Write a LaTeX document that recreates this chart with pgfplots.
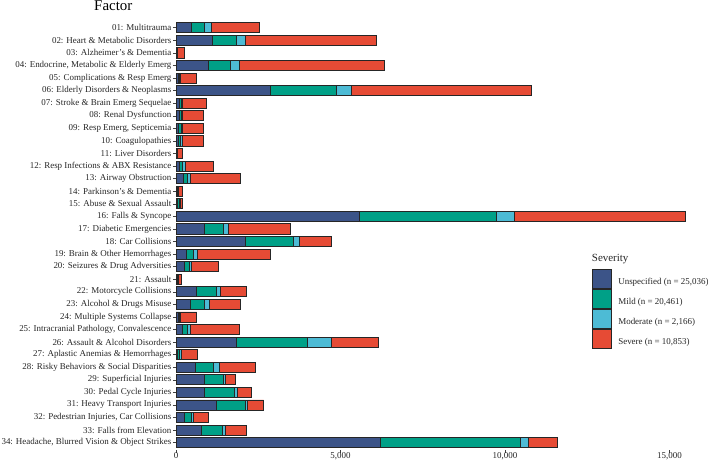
\documentclass[border=0pt]{standalone}
\usepackage{pgfplots}
\usepackage{pgfplotstable}
\pgfplotsset{compat=1.18}
\usepackage{fontspec}
\setmainfont{Liberation Serif}
\definecolor{cU}{HTML}{3C5488}
\definecolor{cM}{HTML}{00A087}
\definecolor{cMo}{HTML}{4DBBD5}
\definecolor{cS}{HTML}{E64B35}
\pgfplotsset{sqleg/.style={legend image code/.code={\draw[##1] (0bp,-6.5bp) rectangle (19bp,12.5bp);}}}
\pgfplotstableread{
idx U M Mo S
1 459 397 209 1461
2 1096 731 271 3989
3 20 10 10 220
4 971 679 281 4417
5 63 41 21 501
6 2871 2015 438 5468
7 94 63 41 721
8 94 83 32 626
9 84 73 52 626
10 73 73 42 637
11 21 21 10 136
12 115 94 73 856
13 230 125 83 1514
14 31 21 21 136
15 31 63 31 63
16 5575 4155 553 5212
17 856 585 146 1890
18 2109 1461 178 971
19 313 209 125 2224
20 251 167 62 804
21 42 21 10 94
22 626 595 126 783
23 438 429 146 939
24 63 41 21 501
25 188 167 83 1493
26 1837 2162 720 1430
27 42 62 63 480
28 595 533 187 1107
29 856 585 73 292
30 877 908 94 407
31 1232 866 84 480
32 251 229 42 470
33 762 647 105 626
34 6212 4259 230 893
}\datatable
\begin{document}
\begin{tikzpicture}
\begin{axis}[
  scale only axis,
  width=524bp, height=430bp,
  at={(176bp,14.8bp)}, anchor=south west,
  xbar stacked,
  bar width=0.8,
  xmin=0, xmax=15930,
  ymin=0.4, ymax=34.6,
  y dir=reverse,
  axis x line*=bottom, axis y line*=left,
  x axis line style={draw=none}, y axis line style={draw=none},
  tick align=outside,
  major tick length=3bp,
  tick style={black!75, line width=0.5bp},
  xtick={0,5000,10000,15000},
  scaled x ticks=false,
  /pgf/number format/1000 sep={,},
  /pgf/number format/assume math mode=true,
  ytick={1,...,34},
  yticklabels={
    {01: Multitrauma},
    {02: Heart \& Metabolic Disorders},
    {03: Alzheimer's \& Dementia},
    {04: Endocrine, Metabolic \& Elderly Emerg},
    {05: Complications \& Resp Emerg},
    {06: Elderly Disorders \& Neoplasms},
    {07: Stroke \& Brain Emerg Sequelae},
    {08: Renal Dysfunction},
    {09: Resp Emerg, Septicemia},
    {10: Coagulopathies},
    {11: Liver Disorders},
    {12: Resp Infections \& ABX Resistance},
    {13: Airway Obstruction},
    {14: Parkinson's \& Dementia},
    {15: Abuse \& Sexual Assault},
    {16: Falls \& Syncope},
    {17: Diabetic Emergencies},
    {18: Car Collisions},
    {19: Brain \& Other Hemorrhages},
    {20: Seizures \& Drug Adversities},
    {21: Assault},
    {22: Motorcycle Collisions},
    {23: Alcohol \& Drugs Misuse},
    {24: Multiple Systems Collapse},
    {25: Intracranial Pathology, Convalescence},
    {26: Assault \& Alcohol Disorders},
    {27: Aplastic Anemias \& Hemorrhages},
    {28: Risky Behaviors \& Social Disparities},
    {29: Superficial Injuries},
    {30: Pedal Cycle Injuries},
    {31: Heavy Transport Injuries},
    {32: Pedestrian Injuries, Car Collisions},
    {33: Falls from Elevation},
    {34: Headache, Blurred Vision \& Object Strikes}},
  yticklabel style={font=\fontsize{9}{10}\selectfont, inner sep=1.5bp, text=black!85},
  xticklabel style={font=\fontsize{9}{10}\selectfont, inner sep=0.3bp, yshift=1.2bp, text=black!85},
  legend cell align=left,
  legend style={draw=none, fill=none, at={(0.7933,0.4214)}, anchor=north west,
    inner sep=0pt, row sep=0.2bp, column sep=6.6bp,
    nodes={inner sep=0pt, font=\fontsize{9}{10}\selectfont, text=black!85}},
]
\addplot[fill=cU, draw=black!85, line width=0.8bp, sqleg]
  table[x=U, y=idx]{\datatable};
\addlegendentry{Unspecified (n = 25,036)}
\addplot[fill=cM, draw=black!85, line width=0.8bp, sqleg]
  table[x=M, y=idx]{\datatable};
\addlegendentry{Mild (n = 20,461)}
\addplot[fill=cMo, draw=black!85, line width=0.8bp, sqleg]
  table[x=Mo, y=idx]{\datatable};
\addlegendentry{Moderate (n = 2,166)}
\addplot[fill=cS, draw=black!85, line width=0.8bp, sqleg]
  table[x=S, y=idx]{\datatable};
\addlegendentry{Severe (n = 10,853)}
\end{axis}
\node[anchor=base west, font=\fontsize{15}{17}\selectfont, inner sep=0pt] at (94bp,454bp) {Factor};
\node[anchor=base west, font=\fontsize{11}{13}\selectfont, inner sep=0pt, text=black!85] at (591.7bp,203.3bp) {Severity};
\pgfresetboundingbox
\path[use as bounding box] (0,0) rectangle (708bp,465bp);
\end{tikzpicture}
\end{document}
